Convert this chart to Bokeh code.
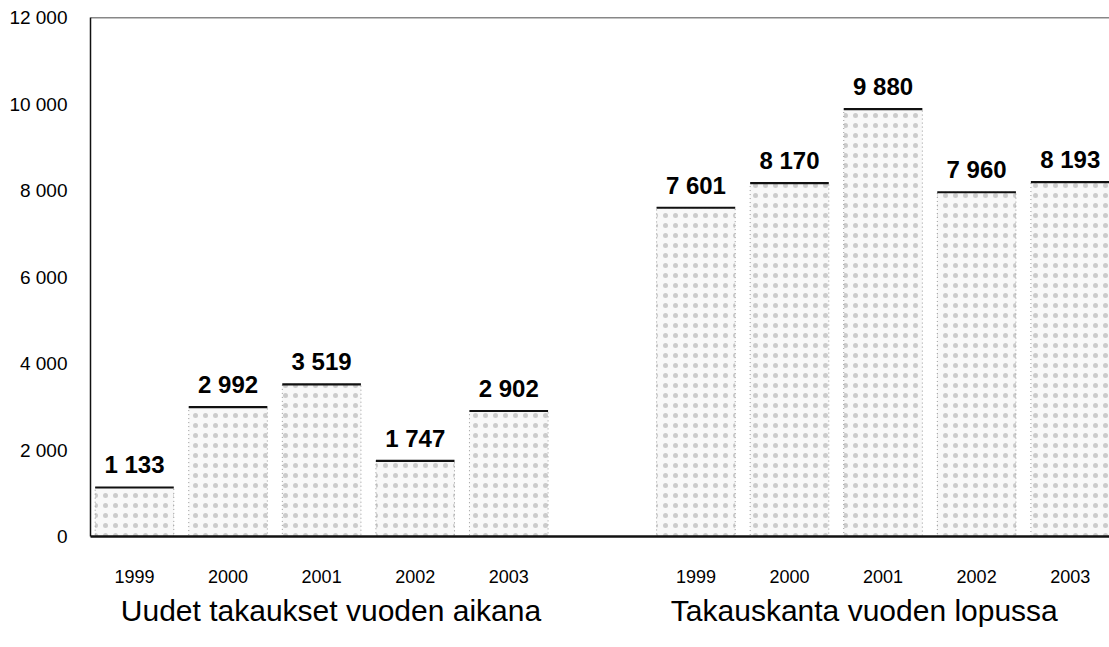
from bokeh.plotting import figure
from bokeh.models import ColumnDataSource, FixedTicker, LinearAxis, Span, Range1d
from bokeh.core.properties import value
from bokeh.embed import file_html
from bokeh.resources import INLINE

years = ["1999", "2000", "2001", "2002", "2003"]
new_guarantees = [1133, 2992, 3519, 1747, 2902]
stock_end = [7601, 8170, 9880, 7960, 8193]
group_names = ["Uudet takaukset vuoden aikana", "Takauskanta vuoden lopussa"]
y_ticks = [0, 2000, 4000, 6000, 8000, 10000, 12000]

# slot positions: group 1 at 1..5, group 2 at 7..11
pos1 = [1, 2, 3, 4, 5]
pos2 = [7, 8, 9, 10, 11]
xs = pos1 + pos2
vals = new_guarantees + stock_end
labels = [f"{v:,}".replace(",", " ") for v in vals]
W = 0.84

src = ColumnDataSource(dict(x=xs, top=vals, lab=labels,
                            x0=[x - W / 2 for x in xs], x1=[x + W / 2 for x in xs]))

FONT = "Liberation Sans, Arial, sans-serif"

p = figure(frame_width=1019, frame_height=519, output_backend="svg", toolbar_location=None,
           x_range=Range1d(0.53, 11.42), y_range=Range1d(0, 12000),
           min_border_left=90, min_border_right=0, min_border_top=17, min_border_bottom=10)
p.outline_line_color = None
p.grid.visible = False
p.background_fill_color = "white"

p.vbar(x="x", top="top", width=W, source=src, fill_color="#f8f8f8",
       hatch_pattern="dot", hatch_color="#555", hatch_alpha=0.28, hatch_scale=10, hatch_weight=1,
       line_color="#999", line_dash="1 3", line_width=1)
p.segment(x0="x0", x1="x1", y0="top", y1="top", source=src, line_color="#111", line_width=2.2)
p.text(x="x", y="top", text="lab", source=src, text_align="center", text_baseline="bottom",
       y_offset=-9, text_font=value("Liberation Sans"), text_font_style="bold",
       text_font_size="24px", text_color="#000")

p.add_layout(Span(location=12000, dimension="width", line_color="#111", line_width=1.5))

# y axis
yax = p.yaxis[0]
yax.ticker = FixedTicker(ticks=y_ticks)
yax.major_label_overrides = {t: f"{t:,}".replace(",", " ") for t in y_ticks}
yax.major_tick_line_color = None
yax.minor_tick_line_color = None
yax.axis_line_color = "#111"
yax.axis_line_width = 1.5
yax.major_label_text_font = FONT
yax.major_label_text_font_size = "19px"
yax.major_label_text_color = "#000"
yax.major_label_standoff = 17

# x axis: years
xax = p.xaxis[0]
xax.ticker = FixedTicker(ticks=xs)
xax.major_label_overrides = {x: years[i % 5] for i, x in enumerate(xs)}
xax.major_tick_line_color = None
xax.minor_tick_line_color = None
xax.axis_line_color = "#111"
xax.axis_line_width = 2.5
xax.major_label_text_font = FONT
xax.major_label_text_font_size = "18px"
xax.major_label_text_color = "#000"
xax.major_label_standoff = 27

# group titles axis
centers = [sum(pos1) / 5 + 0.1, sum(pos2) / 5 - 0.2]
gax = LinearAxis(ticker=FixedTicker(ticks=centers),
                 major_label_overrides={c: group_names[i] for i, c in enumerate(centers)})
gax.axis_line_color = None
gax.major_tick_line_color = None
gax.minor_tick_line_color = None
gax.major_label_text_font = FONT
gax.major_label_text_font_size = "30px"
gax.major_label_text_color = "#000"
gax.major_label_standoff = 2
p.add_layout(gax, "below")

open("out.html", "w").write(file_html(p, INLINE))
